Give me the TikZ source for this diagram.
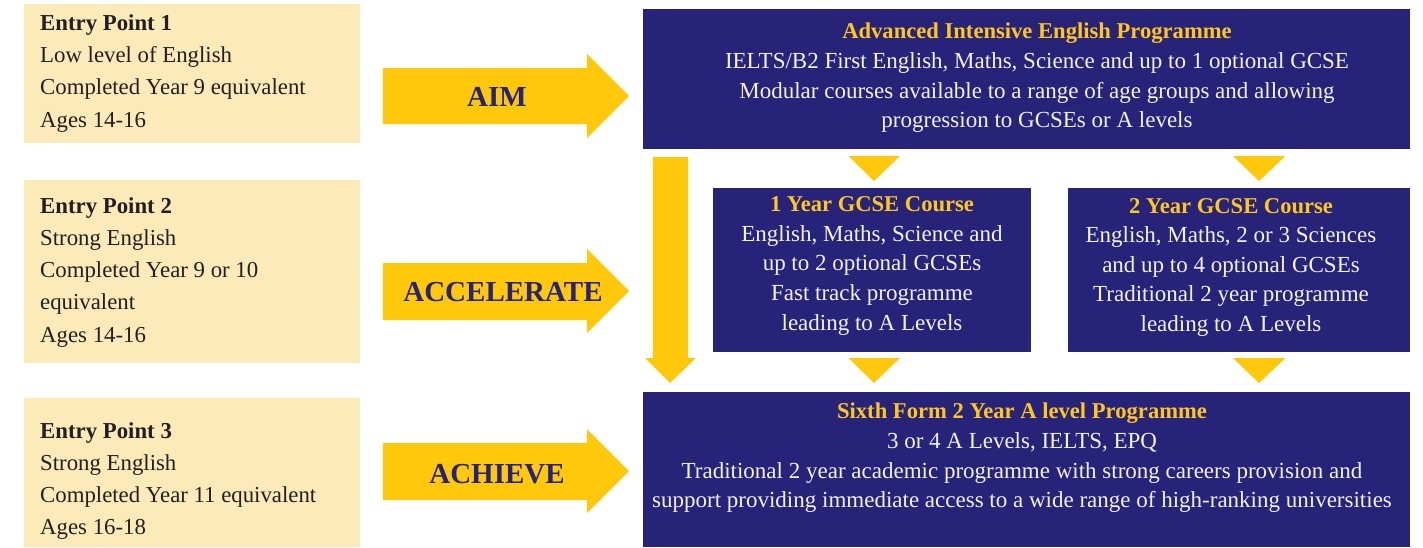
\documentclass[tikz,border=0pt]{standalone}
\usepackage{fontspec}
\setmainfont{Liberation Serif}
\definecolor{navy}{RGB}{38,35,121}
\definecolor{gold}{RGB}{255,200,10}
\definecolor{cream}{RGB}{253,234,185}
\definecolor{ttlgold}{RGB}{255,198,30}
\definecolor{darktext}{RGB}{35,31,32}
\definecolor{bluetext}{RGB}{242,242,248}
\begin{document}
\begin{tikzpicture}[x=1pt,y=-1pt,
  cbox/.style={fill=cream, draw=none, inner sep=0pt, anchor=north west},
  bbox/.style={fill=navy, draw=none, inner sep=0pt, anchor=north west},
  ltext/.style={anchor=north west, align=left, text=darktext, inner sep=0pt,
    font=\fontsize{22.8}{32.2}\selectfont},
  btext/.style={anchor=north, align=center, text=bluetext, inner sep=0pt,
    font=\fontsize{23}{29.6}\selectfont},
  arrtext/.style={text=navy, inner sep=0pt, font=\fontsize{29}{29}\selectfont\bfseries},
  yel/.style={fill=gold, draw=none}
]
\useasboundingbox (0,0) rectangle (1423,547);
\newcommand{\ttl}[1]{{\color{ttlgold}\fontsize{22.6}{29.6}\selectfont\bfseries #1}}

% entry boxes
\node[cbox, minimum width=336pt, minimum height=139pt] (e1) at (24,4) {};
\node[cbox, minimum width=336pt, minimum height=183pt] (e2) at (24,180) {};
\node[cbox, minimum width=336pt, minimum height=149pt] (e3) at (24,398) {};

\node[ltext] (t1) at (40,14.5) {\textbf{Entry Point 1}\\Low level of English\\Completed Year 9 equivalent\\Ages 14-16};
\node[ltext] (t2) at (40,197.2) {\textbf{Entry Point 2}\\Strong English\\Completed Year 9 or 10\\equivalent\\Ages 14-16};
\node[ltext] (t3) at (40,422.2) {\textbf{Entry Point 3}\\Strong English\\Completed Year 11 equivalent\\Ages 16-18};

% programme boxes
\node[bbox, minimum width=767pt, minimum height=140pt] (p1) at (643,9) {};
\node[bbox, minimum width=318pt, minimum height=164pt] (pa) at (713,188) {};
\node[bbox, minimum width=342pt, minimum height=164pt] (pb) at (1068,188) {};
\node[bbox, minimum width=767pt, minimum height=155pt] (p3) at (643,392) {};

\node[btext] (bt1) at (1037,23) {\ttl{Advanced Intensive English Programme}\\IELTS/B2 First English, Maths, Science and up to 1 optional GCSE\\Modular courses available to a range of age groups and allowing\\progression to GCSEs or A levels};
\node[btext] (bta) at (872,196.5) {\ttl{1 Year GCSE Course}\\English, Maths, Science and\\up to 2 optional GCSEs\\Fast track programme\\leading to A Levels};
\node[btext] (btb) at (1231,198) {\ttl{2 Year GCSE Course}\\English, Maths, 2 or 3 Sciences\\and up to 4 optional GCSEs\\Traditional 2 year programme\\leading to A Levels};
\node[btext] (bt3) at (1022,403) {\ttl{Sixth Form 2 Year A level Programme}\\3 or 4 A Levels, IELTS, EPQ\\Traditional 2 year academic programme with strong careers provision and\\support providing immediate access to a wide range of high-ranking universities};

% big arrows
\fill[yel] (383,68) -- (587,68) -- (587,54) -- (629,96) -- (587,138) -- (587,124) -- (383,124) -- cycle;
\fill[yel] (383,263) -- (587,263) -- (587,249) -- (629,291) -- (587,333) -- (587,320) -- (383,320) -- cycle;
\fill[yel] (383,443) -- (587,443) -- (587,429) -- (629,471) -- (587,513) -- (587,500) -- (383,500) -- cycle;
\node[arrtext] (a1) at (497,97) {AIM};
\node[arrtext] (a2) at (503,292) {ACCELERATE};
\node[arrtext] (a3) at (497,474) {ACHIEVE};

% vertical arrow
\fill[yel] (653,157) -- (688,157) -- (688,358) -- (696,358) -- (670,383) -- (645,358) -- (653,358) -- cycle;

% small triangles
\fill[yel] (848.5,156) -- (900,156) -- (874,181) -- cycle;
\fill[yel] (1233,156) -- (1285.5,156) -- (1259,181) -- cycle;
\fill[yel] (848.5,358) -- (900,358) -- (874,383) -- cycle;
\fill[yel] (1233,358) -- (1285.5,358) -- (1259,383) -- cycle;
\end{tikzpicture}
\end{document}
